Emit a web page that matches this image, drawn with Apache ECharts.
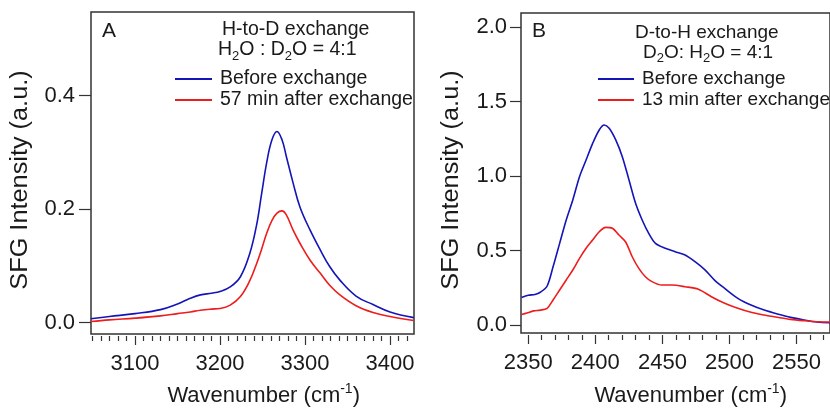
<!DOCTYPE html>
<html>
<head>
<meta charset="utf-8">
<script src="https://cdn.jsdelivr.net/npm/echarts@6/dist/echarts.min.js"></script>
<style>html,body{margin:0;padding:0;background:#fff}#c{width:830px;height:409px}</style>
</head>
<body>
<div id="c"></div>
<script>
// ---- Panel A data (H-to-D exchange) ----
const aWavenumber = [3048, 3070, 3100, 3130, 3150, 3165, 3177, 3190, 3200, 3212, 3224, 3235, 3243, 3249, 3255, 3261, 3267, 3273, 3278, 3286, 3294, 3306, 3318, 3329, 3341, 3360, 3380, 3400, 3428];
const aBefore = [0.007, 0.011, 0.016, 0.023, 0.033, 0.043, 0.049, 0.052, 0.055, 0.063, 0.081, 0.122, 0.172, 0.228, 0.283, 0.322, 0.337, 0.322, 0.293, 0.246, 0.204, 0.163, 0.128, 0.099, 0.075, 0.047, 0.032, 0.019, 0.009];
const aAfter = [0.002, 0.005, 0.008, 0.012, 0.016, 0.019, 0.022, 0.024, 0.025, 0.031, 0.046, 0.074, 0.104, 0.130, 0.158, 0.180, 0.193, 0.197, 0.190, 0.163, 0.140, 0.110, 0.087, 0.066, 0.049, 0.030, 0.018, 0.011, 0.004];

// ---- Panel B data (D-to-H exchange) ----
const bBeforeX = [2345, 2350, 2355, 2359, 2364, 2368.5, 2373.4, 2378.3, 2383.2, 2388.2, 2393.1, 2398, 2402.9, 2406.6, 2410.3, 2415.2, 2420.1, 2425.1, 2430, 2434.9, 2439.8, 2444.8, 2452.1, 2459.5, 2466.9, 2474.3, 2481.7, 2489, 2496.4, 2506.2, 2516, 2525.9, 2535.7, 2545.6, 2555.5, 2565.3, 2575];
const bBefore = [0.185, 0.2, 0.205, 0.22, 0.26, 0.391, 0.548, 0.705, 0.839, 0.995, 1.107, 1.219, 1.309, 1.342, 1.32, 1.242, 1.13, 0.973, 0.817, 0.705, 0.615, 0.548, 0.515, 0.492, 0.47, 0.425, 0.37, 0.3, 0.246, 0.179, 0.134, 0.1, 0.074, 0.051, 0.034, 0.02, 0.015];
const bAfterX = [2345, 2349, 2354, 2359, 2364, 2368.5, 2373.4, 2378.3, 2383.2, 2388.2, 2393.1, 2398, 2402.9, 2407.8, 2412.7, 2417.6, 2422.5, 2427.5, 2432.4, 2437.3, 2442.2, 2449.6, 2457, 2466.9, 2476.8, 2486.5, 2496.4, 2506.2, 2516, 2525.9, 2535.7, 2545.6, 2555.5, 2565.3, 2575];
const bAfter = [0.07, 0.08, 0.095, 0.1, 0.112, 0.168, 0.235, 0.302, 0.369, 0.447, 0.515, 0.57, 0.626, 0.655, 0.649, 0.604, 0.559, 0.458, 0.38, 0.324, 0.291, 0.268, 0.268, 0.257, 0.24, 0.19, 0.146, 0.112, 0.085, 0.067, 0.052, 0.038, 0.029, 0.022, 0.02];

// ---- tick values ----
const aXMajor = [3100, 3200, 3300, 3400];
const aXMinor = [3050, 3060, 3070, 3080, 3090, 3110, 3120, 3130, 3140, 3150, 3160, 3170, 3180, 3190, 3210, 3220, 3230, 3240, 3250, 3260, 3270, 3280, 3290, 3310, 3320, 3330, 3340, 3350, 3360, 3370, 3380, 3390, 3410, 3420];
const aYTicks = [0, 0.2, 0.4];
const bXMajor = [2350, 2400, 2450, 2500, 2550];
const bXMinor = [2360, 2370, 2380, 2390, 2410, 2420, 2430, 2440, 2460, 2470, 2480, 2490, 2510, 2520, 2530, 2540, 2560, 2570];
const bYTicks = [0, 0.5, 1.0, 1.5, 2.0];

const FONT = '"Liberation Sans", Arial, sans-serif';
const TXT = '#1a1a1a';
const AX = '#333';
const BLUE = '#1414b8';
const RED = '#ee1c1c';

function zip(xs, ys) { return xs.map((x, i) => [x, ys[i]]); }

function xMajor(grid, min, max, vals) {
  return { type: 'value', gridIndex: grid, min: min, max: max, position: 'bottom', offset: 2,
    axisLine: { show: false, onZero: false }, splitLine: { show: false },
    axisTick: { show: true, length: 9, customValues: vals, lineStyle: { color: AX, width: 1.2 } },
    axisLabel: { customValues: vals, margin: 17, fontSize: 22, color: TXT, fontFamily: FONT, formatter: v => String(v) } };
}
function xMinor(grid, min, max, vals) {
  return { type: 'value', gridIndex: grid, min: min, max: max, position: 'bottom', offset: 2,
    axisLine: { show: false, onZero: false }, splitLine: { show: false },
    axisTick: { show: true, length: 5, customValues: vals, lineStyle: { color: AX, width: 1.2 } },
    axisLabel: { show: false } };
}
function yAx(grid, min, max, vals, len, margin) {
  return { type: 'value', gridIndex: grid, min: min, max: max,
    axisLine: { show: false, onZero: false }, splitLine: { show: false },
    axisTick: { show: true, length: len, customValues: vals, lineStyle: { color: AX, width: 1.2 } },
    axisLabel: { customValues: vals, margin: margin, fontSize: 22, color: TXT, fontFamily: FONT, formatter: v => v.toFixed(1) } };
}

const chart = echarts.init(document.getElementById('c'), null, { renderer: 'canvas' });

const option = {
  animation: false,
  backgroundColor: '#fff',
  grid: [
    { left: 91, top: 12, width: 323, height: 322, show: true, borderColor: AX, borderWidth: 1.5, backgroundColor: 'transparent' },
    { left: 521, top: 13, width: 312, height: 320, show: true, borderColor: AX, borderWidth: 1.5, backgroundColor: 'transparent' }
  ],
  xAxis: [
    xMajor(0, 3048.2, 3428.2, aXMajor),
    xMinor(0, 3048.2, 3428.2, aXMinor),
    xMajor(1, 2344.6, 2574.9, bXMajor),
    xMinor(1, 2344.6, 2574.9, bXMinor)
  ],
  yAxis: [
    yAx(0, -0.0199, 0.5475, aYTicks, 12, 16),
    yAx(1, -0.0537, 2.094, bYTicks, 11, 14)
  ],
  legend: [
    { orient: 'vertical', left: 175, top: 69, padding: 0, icon: 'rect', itemWidth: 37, itemHeight: 2, itemGap: 1,
      data: ['Before exchange', '57 min after exchange'],
      textStyle: { fontSize: 19.5, lineHeight: 20, color: TXT, fontFamily: FONT, padding: [0, 0, 0, 3] } },
    { orient: 'vertical', left: 598, top: 69, padding: 0, icon: 'rect', itemWidth: 36, itemHeight: 2, itemGap: 1,
      data: ['Before exchange', '13 min after exchange'],
      textStyle: { fontSize: 19, lineHeight: 20, color: TXT, fontFamily: FONT, padding: [0, 0, 0, 3] } }
  ],
  series: [
    { name: 'Before exchange', type: 'line', xAxisIndex: 0, yAxisIndex: 0, data: zip(aWavenumber, aBefore),
      symbol: 'none', smooth: 0.4, lineStyle: { color: BLUE, width: 1.6 }, itemStyle: { color: BLUE } },
    { name: '57 min after exchange', type: 'line', xAxisIndex: 0, yAxisIndex: 0, data: zip(aWavenumber, aAfter),
      symbol: 'none', smooth: 0.4, lineStyle: { color: RED, width: 1.6 }, itemStyle: { color: RED } },
    { name: 'Before exchange', type: 'line', xAxisIndex: 2, yAxisIndex: 1, data: zip(bBeforeX, bBefore),
      symbol: 'none', smooth: 0.3, lineStyle: { color: BLUE, width: 1.6 }, itemStyle: { color: BLUE } },
    { name: '13 min after exchange', type: 'line', xAxisIndex: 2, yAxisIndex: 1, data: zip(bAfterX, bAfter),
      symbol: 'none', smooth: 0.3, lineStyle: { color: RED, width: 1.6 }, itemStyle: { color: RED } }
  ],
  graphic: [
    // Panel A texts
    { type: 'text', left: 102, top: 21, style: { text: 'A', fontSize: 21, fill: TXT, fontFamily: FONT } },
    { type: 'text', left: 222, top: 19.5, style: { text: 'H-to-D exchange', fontSize: 19.5, fill: TXT, fontFamily: FONT } },
    { type: 'text', left: 218, top: 40, style: { text: 'H{s|2}O : D{s|2}O = 4:1', fontSize: 19.5, fill: TXT, fontFamily: FONT,
      rich: { s: { fontSize: 13, fill: TXT, fontFamily: FONT, padding: [12, 0, 0, 0] } } } },
    { type: 'text', x: 21, y: 180, rotation: Math.PI / 2, scaleX: 1.1,
      style: { text: 'SFG Intensity (a.u.)', fontSize: 23, fill: TXT, fontFamily: FONT, align: 'center', verticalAlign: 'middle' } },
    { type: 'text', x: 263.7, y: 396, style: { text: '{t|Wavenumber (cm}{p|-1}{t|)}', fill: TXT, fontFamily: FONT, align: 'center', verticalAlign: 'middle',
      rich: { t: { fontSize: 22, fill: TXT, fontFamily: FONT }, p: { fontSize: 14, fill: TXT, fontFamily: FONT, padding: [0, 0, 14, 0] } } } },
    // Panel B texts
    { type: 'text', left: 532, top: 21, style: { text: 'B', fontSize: 21, fill: TXT, fontFamily: FONT } },
    { type: 'text', left: 635, top: 23, style: { text: 'D-to-H exchange', fontSize: 19, fill: TXT, fontFamily: FONT } },
    { type: 'text', left: 643, top: 43, style: { text: 'D{s|2}O: H{s|2}O = 4:1', fontSize: 19, fill: TXT, fontFamily: FONT,
      rich: { s: { fontSize: 13, fill: TXT, fontFamily: FONT, padding: [12, 0, 0, 0] } } } },
    { type: 'text', x: 451.5, y: 180, rotation: Math.PI / 2, scaleX: 1.1,
      style: { text: 'SFG Intensity (a.u.)', fontSize: 23, fill: TXT, fontFamily: FONT, align: 'center', verticalAlign: 'middle' } },
    { type: 'text', x: 690.7, y: 396, style: { text: '{t|Wavenumber (cm}{p|-1}{t|)}', fill: TXT, fontFamily: FONT, align: 'center', verticalAlign: 'middle',
      rich: { t: { fontSize: 22, fill: TXT, fontFamily: FONT }, p: { fontSize: 14, fill: TXT, fontFamily: FONT, padding: [0, 0, 14, 0] } } } }
  ]
};
chart.setOption(option);
</script>
</body>
</html>
